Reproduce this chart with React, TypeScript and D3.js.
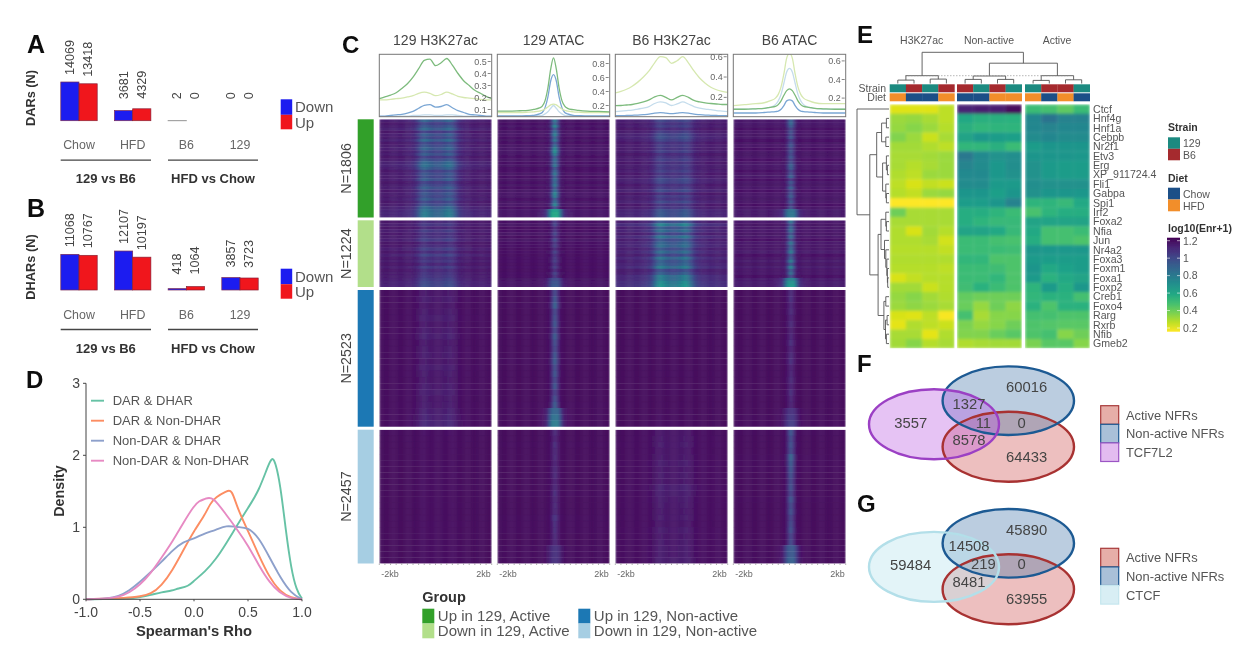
import React from "react";
import * as d3 from "d3";

const FONT = "'Liberation Sans', Arial, sans-serif";
const GREY = "#555";

// ---------- A / B bars
const barCategories = ["Chow", "HFD", "B6", "129"];
const darDown = [14069, 3681, 2, 0];
const darUp = [13418, 4329, 0, 0];
const dharDown = [11068, 12107, 418, 3857];
const dharUp = [10767, 10197, 1064, 3723];

// ---------- D density
const rhoGreen: [number, number][] = [[-1,0],[-.6,.01],[-.5,.03],[-.4,.06],[-.3,.1],[-.2,.12],[-.15,.15],[-.05,.18],[0,.26],[.1,.38],[.2,.55],[.3,.78],[.4,1.03],[.5,1.27],[.6,1.5],[.7,1.92],[.74,2.0],[.8,1.6],[.85,.95],[.9,.42],[.95,.12],[1,.01]];
const rhoOrange: [number, number][] = [[-1,0],[-.6,.02],[-.5,.04],[-.4,.07],[-.3,.19],[-.2,.4],[-.1,.68],[0,.95],[.1,1.17],[.15,1.33],[.2,1.42],[.3,1.5],[.35,1.53],[.4,1.27],[.5,.95],[.6,.61],[.7,.3],[.8,.1],[.9,.02],[1,0]];
const rhoPurple: [number, number][] = [[-1,0],[-.8,.01],[-.7,.04],[-.6,.12],[-.5,.24],[-.4,.38],[-.3,.52],[-.2,.68],[-.1,.8],[0,.84],[.1,.92],[.2,.96],[.3,1.03],[.4,1],[.5,1],[.6,.86],[.7,.58],[.8,.3],[.9,.08],[1,0]];
const rhoPink: [number, number][] = [[-1,0],[-.8,.01],[-.7,.03],[-.6,.09],[-.5,.2],[-.4,.36],[-.3,.58],[-.2,.8],[-.1,1.06],[0,1.3],[.05,1.37],[.1,1.39],[.17,1.44],[.3,1.17],[.4,.97],[.5,.75],[.6,.47],[.7,.23],[.8,.08],[.9,.01],[1,0]];
const rhoNames = ["DAR & DHAR", "DAR & Non-DHAR", "Non-DAR & DHAR", "Non-DAR & Non-DHAR"];
const rhoColors = ["#66c2a5", "#fc8d62", "#8da0cb", "#e78ac3"];

// ---------- C
const cTitles = ["129 H3K27ac", "129 ATAC", "B6 H3K27ac", "B6 ATAC"];
const cGroups = ["Up in 129, Active", "Down in 129, Active", "Up in 129, Non-active", "Down in 129, Non-active"];
const cGroupN = ["N=1806", "N=1224", "N=2523", "N=2457"];
const cGroupColors = ["#33a02c", "#b2df8a", "#1f78b4", "#a6cee3"];
const lineColors = ["#7dbb7d", "#d6e8b0", "#7aa6d4", "#c4dcec"];
const broadPos = d3.range(21).map((i) => -2 + i * 0.2);
const atacPos = [-2,-1.6,-1.2,-.9,-.7,-.5,-.4,-.3,-.2,-.1,0,.1,.2,.3,.4,.5,.7,.9,1.2,1.6,2];
const prof129H3 = [
  [.19,.205,.22,.24,.275,.315,.37,.44,.51,.52,.465,.49,.525,.47,.40,.34,.30,.26,.235,.21,.19],
  [.18,.18,.185,.19,.195,.205,.215,.235,.245,.235,.215,.225,.245,.23,.21,.2,.195,.19,.185,.18,.18],
  [.045,.045,.05,.055,.06,.07,.085,.11,.135,.14,.12,.125,.14,.115,.09,.075,.06,.055,.05,.045,.045],
  [.04,.04,.04,.042,.045,.045,.05,.05,.055,.055,.05,.05,.055,.055,.05,.045,.045,.042,.04,.04,.04],
];
const prof129Atac = [
  [.12,.12,.125,.13,.145,.165,.19,.27,.45,.72,.88,.72,.45,.27,.19,.16,.14,.13,.12,.115,.11],
  [.1,.1,.1,.105,.11,.12,.13,.15,.18,.21,.22,.21,.18,.15,.13,.12,.11,.105,.1,.1,.1],
  [.05,.05,.05,.055,.06,.08,.1,.17,.32,.55,.64,.55,.32,.17,.1,.08,.06,.055,.05,.05,.05],
  [.045,.045,.045,.05,.05,.055,.06,.08,.11,.16,.2,.16,.11,.08,.06,.055,.05,.05,.045,.045,.045],
];
const profB6H3 = [
  [.118,.12,.125,.13,.14,.155,.175,.205,.22,.2,.175,.2,.22,.2,.17,.155,.145,.14,.135,.13,.13],
  [.245,.26,.28,.31,.35,.40,.46,.54,.6,.59,.535,.56,.6,.54,.46,.39,.34,.3,.275,.26,.25],
  [.02,.02,.022,.024,.026,.03,.035,.045,.05,.045,.04,.045,.05,.045,.035,.03,.026,.024,.022,.02,.02],
  [.06,.065,.07,.075,.085,.095,.11,.14,.155,.145,.12,.135,.155,.135,.11,.095,.085,.08,.07,.065,.06],
];
const profB6Atac = [
  [.08,.08,.085,.09,.1,.11,.13,.17,.23,.28,.3,.28,.23,.17,.13,.11,.1,.09,.085,.08,.08],
  [.12,.13,.14,.15,.17,.2,.24,.32,.46,.63,.68,.63,.46,.32,.24,.2,.17,.15,.14,.14,.14],
  [.04,.04,.04,.045,.05,.055,.06,.08,.12,.17,.18,.17,.12,.08,.06,.055,.05,.045,.04,.04,.04],
  [.08,.08,.085,.09,.1,.13,.17,.24,.36,.48,.52,.48,.36,.24,.17,.13,.1,.09,.08,.08,.08],
];
const cProfiles = [prof129H3, prof129Atac, profB6H3, profB6Atac];
const cPositions = [broadPos, atacPos, broadPos, atacPos];
const cTicks = [[.1,.2,.3,.4,.5],[.2,.4,.6,.8],[.2,.4,.6],[.2,.4,.6]];
const cDomains = [[.04,.56],[.04,.95],[.01,.6],[.0,.7]];
const cTickLabels = [["0.1","0.2","0.3","0.4","0.5"],["0.2","0.4","0.6","0.8"],["0.2","0.4","0.6"],["0.2","0.4","0.6"]];

const broadHeat = [0,0,0,0,.01,.02,.03,.04,.05,.07,.1,.15,.25,.45,.72,.95,1,.9,.8,.72,.7,.72,.8,.9,1,.95,.72,.48,.28,.16,.1,.07,.05,.04,.03,.02,.01,0,0,0];
const narrowHeat = [0,0,0,0,0,0,0,0,0,0,0,0,0,0,0,0,0,.02,.08,.5,1,.5,.08,.02,0,0,0,0,0,0,0,0,0,0,0,0,0,0,0,0];
const wideHeat = [0,0,0,0,0,0,0,0,0,0,0,0,0,0,.01,.03,.08,.2,.6,1,1,1,.6,.2,.08,.03,.01,0,0,0,0,0,0,0,0,0,0,0,0,0];
// amplitude of the signal, one row per group, one column per panel
const heatAmp = [
  [.20,.33,.11,.2],
  [.09,.13,.24,.28],
  [.05,.24,.004,.09],
  [.01,.09,.04,.22],
];
// background streak level, per group, per panel
const heatBg = [
  [.05,.025,.05,.03],
  [.045,.02,.07,.035],
  [.008,.005,.003,.004],
  [.004,.005,.01,.005],
];
const heatStreaks = [
  [1.2,.8,1.0,1.3,.7,1.1,.9,1.3,.8,1.0,1.2,.9,1.1,.7,1.0,1.3,1.4,1.2,.8,1.0,.9,1.1,.7,.9,1.1,.8,1.0,.9,1.1,.8,1.0,1.3,1.5,1.6,1.6],
  [.8,1.1,.7,1.2,.9,1.0,1.3,.7,.9,1.3,.8,1.4,.9,1.1,.7,1.2,.8,1.0,1.1,1.3,1.5,1.6],
  [.8,1.0,.7,.9,1.1,.8,1.0,1.2,.8,.9,1.0,.8,1.1,.9,.8,1.0,1.1,.9,1.0,1.2,1.4,1.6],
  [1.4,1.2,1.1,1.0,.9,1.0,.8,1.1,.9,1.0,.8,.9,1.0,.8,.9,1.1,.9,1.0,.9,1.1,1.1,1.2],
];

// ---------- E
const eRows = ["Ctcf","Hnf4g","Hnf1a","Cebpb","Nr2f1","Etv3","Erg","XP_911724.4","Fli1","Gabpa","Spi1","Irf2","Foxa2","Nfia","Jun","Nr4a2","Foxa3","Foxm1","Foxa1","Foxp2","Creb1","Foxo4","Rarg","Rxrb","Nfib","Gmeb2"];
const eValues = [
  [.25,.25,.25,.3, 1.1,1.12,1.12,1.18, .52,.5,.45,.52],
  [.35,.36,.33,.3, .6,.57,.57,.56, .74,.82,.76,.76],
  [.36,.38,.35,.31, .57,.54,.55,.55, .74,.75,.74,.74],
  [.39,.35,.28,.33, .62,.67,.65,.64, .72,.74,.72,.72],
  [.34,.34,.32,.3, .54,.54,.57,.52, .65,.68,.68,.68],
  [.33,.33,.34,.35, .8,.73,.69,.71, .68,.68,.68,.67],
  [.33,.31,.33,.35, .75,.72,.67,.71, .69,.66,.65,.65],
  [.32,.30,.35,.35, .73,.73,.67,.70, .69,.66,.65,.65],
  [.30,.26,.29,.28, .72,.72,.66,.66, .71,.70,.70,.70],
  [.31,.29,.35,.36, .68,.68,.64,.68, .70,.68,.68,.67],
  [.2,.2,.2,.2, .65,.65,.68,.76, .55,.55,.53,.6],
  [.42,.33,.33,.33, .58,.58,.55,.52, .49,.55,.58,.58],
  [.33,.33,.33,.33, .58,.55,.53,.53, .62,.62,.62,.62],
  [.32,.26,.34,.31, .62,.62,.6,.53, .6,.5,.5,.52],
  [.32,.32,.33,.27, .52,.52,.5,.49, .58,.5,.5,.48],
  [.31,.31,.31,.29, .52,.52,.52,.51, .68,.67,.67,.67],
  [.32,.32,.32,.32, .54,.54,.48,.48, .66,.65,.65,.65],
  [.31,.31,.31,.3, .52,.52,.51,.48, .68,.6,.63,.65],
  [.26,.29,.31,.31, .52,.52,.54,.48, .66,.56,.6,.62],
  [.34,.34,.28,.31, .51,.56,.52,.48, .55,.66,.58,.67],
  [.36,.38,.34,.32, .44,.42,.42,.42, .54,.56,.56,.5],
  [.35,.37,.35,.33, .43,.36,.42,.37, .56,.48,.56,.56],
  [.26,.25,.3,.21, .5,.33,.38,.38, .5,.5,.48,.48],
  [.24,.32,.3,.28, .4,.36,.38,.42, .48,.47,.46,.46],
  [.33,.33,.24,.32, .39,.39,.43,.46, .48,.5,.38,.42],
  [.34,.38,.31,.33, .32,.33,.34,.34, .4,.46,.46,.38],
];
const eStrain = ["129","B6","129","B6","B6","129","B6","129","129","B6","B6","129"];
const eDiet = ["HFD","Chow","Chow","HFD","Chow","Chow","HFD","HFD","HFD","Chow","HFD","Chow"];
const strainColors: Record<string, string> = { "129": "#1b8a80", B6: "#a52a2e" };
const dietColors: Record<string, string> = { Chow: "#1b4f87", HFD: "#f28e2b" };
const eGroupNames = ["H3K27ac", "Non-active", "Active"];
const eLegendTicks = [.2,.4,.6,.8,1,1.2];

type Tree = number | { h: number; c: Tree[] };
const colTree: Tree = { h: 1, c: [
  { h: .25, c: [{ h: .11, c: [0,1] }, { h: .14, c: [2,3] }] },
  { h: .65, c: [
    { h: .24, c: [{ h: .13, c: [4,5] }, { h: .13, c: [6,7] }] },
    { h: .25, c: [{ h: .1, c: [8,9] }, { h: .12, c: [10,11] }] },
  ] },
] };
const rowTree: Tree = { h: 1, c: [0, { h: .6, c: [
  { h: .385, c: [
    { h: .23, c: [{ h: .08, c: [1,2] }, { h: .1, c: [3,4] }] },
    { h: .2, c: [{ h: .08, c: [5,{ h: .05, c: [6,7] }] }, { h: .1, c: [8,{ h: .08, c: [9,10] }] }] },
  ] },
  { h: .34, c: [
    { h: .25, c: [
      { h: .1, c: [11,{ h: .08, c: [12,13] }] },
      { h: .14, c: [14,{ h: .1, c: [15,{ h: .07, c: [16,{ h: .05, c: [17,{ h: .04, c: [18,19] }] }] }] }] },
    ] },
    { h: .16, c: [{ h: .1, c: [20,21] }, { h: .11, c: [{ h: .06, c: [22,23] }, { h: .08, c: [24,25] }] }] },
  ] },
] }] };

// ---------- F / G
const vennNames = [["Active NFRs","Non-active NFRs","TCF7L2"],["Active NFRs","Non-active NFRs","CTCF"]];
const vennCounts = [
  ["60016","3557","1327","11","0","8578","64433"],
  ["45890","59484","14508","219","0","8481","63955"],
];

function dendro(node: Tree, leaf: (i: number) => number, pt: (p: number, h: number) => [number, number]): { p: number; h: number; d: string } {
  if (typeof node === "number") return { p: leaf(node), h: 0, d: "" };
  const kids = node.c.map((k) => dendro(k, leaf, pt));
  const first = kids[0], last = kids[kids.length - 1];
  const L = (q: [number, number]) => `${q[0].toFixed(1)},${q[1].toFixed(1)}`;
  const d = kids.map((k) => k.d).join("") +
    `M${L(pt(first.p, first.h))}L${L(pt(first.p, node.h))}L${L(pt(last.p, node.h))}L${L(pt(last.p, last.h))}`;
  return { p: (first.p + last.p) / 2, h: node.h, d };
}

const T = (p: any) => <text fontFamily={FONT} {...p} />;

function BarPanel({ down, up, top, label, scale, minGap, legendTop, labelY }: any) {
  const base = top;
  const x = d3.scalePoint<string>().domain(barCategories).range([79, 240]);
  const y = d3.scaleLinear().domain([0, 14069]).range([base, base - scale]);
  const w = 18.2;
  const lab = (v: number, cx: number) => {
    const h = base - y(v);
    const gap = Math.max(h + (h > 20 ? 7 : 10), minGap);
    return <T transform={`translate(${cx + 4},${base - gap}) rotate(-90)`} fontSize={12.6} fill="#444">{v}</T>;
  };
  return (
    <g>
      <T transform={`translate(35,${labelY}) rotate(-90)`} textAnchor="middle" fontSize={12.8} fontWeight="bold" fill="#333">{label}</T>
      {barCategories.map((c, i) => {
        const cx = x(c)!;
        return (
          <g key={c}>
            <rect x={cx - w} y={y(down[i])} width={w} height={base - y(down[i])} fill={down[i] > 5 ? "#1a1ff0" : "#888"} stroke={down[i] > 5 ? "#7a2a55" : "#888"} strokeWidth={down[i] > 5 ? .7 : .9} />
            <rect x={cx} y={y(up[i])} width={w} height={base - y(up[i])} fill={up[i] > 5 ? "#f0141e" : "#888"} stroke={up[i] > 5 ? "#8a2233" : "#888"} strokeWidth={up[i] > 5 ? .7 : .9} />
            {lab(down[i], cx - w / 2)}
            {lab(up[i], cx + w / 2)}
            <T x={cx} y={base + 28.5} textAnchor="middle" fontSize={12.4} fill="#666">{c}</T>
          </g>
        );
      })}
      {[[60.7, 151, "129 vs B6"], [168, 258, "HFD vs Chow"]].map(([a, b, s]: any) => (
        <g key={s}>
          <line x1={a} x2={b} y1={base + 39.5} y2={base + 39.5} stroke="#444" strokeWidth={1.3} />
          <T x={(a + b) / 2} y={base + 62.5} textAnchor="middle" fontSize={13} fontWeight="bold" fill="#333">{s}</T>
        </g>
      ))}
      <rect x={280.7} y={legendTop} width={11.5} height={15.5} fill="#1a1ff0" />
      <rect x={280.7} y={legendTop + 15.5} width={11.5} height={14.5} fill="#f0141e" />
      <T x={295} y={legendTop + 13} fontSize={15} fill={GREY}>Down</T>
      <T x={295} y={legendTop + 28.5} fontSize={15} fill={GREY}>Up</T>
    </g>
  );
}

function DensityPanel() {
  const x = d3.scaleLinear().domain([-1, 1]).range([86, 302]);
  const y = d3.scaleLinear().domain([0, 3]).range([599.3, 383.3]);
  const line = d3.line<[number, number]>().x((d) => x(d[0])).y((d) => y(d[1])).curve(d3.curveBasis);
  const series = [rhoGreen, rhoOrange, rhoPurple, rhoPink];
  const xt = [-1, -.5, 0, .5, 1];
  return (
    <g>
      {series.map((s, i) => <path key={i} d={line(s)!} fill="none" stroke={rhoColors[i]} strokeWidth={1.9} />)}
      <line x1={x(-1)} x2={x(-1)} y1={y(3)} y2={y(0)} stroke="#444" strokeWidth={1} />
      <line x1={x(-1)} x2={x(1)} y1={y(0)} y2={y(0)} stroke="#444" strokeWidth={1} />
      {[0, 1, 2, 3].map((t) => (
        <g key={t}>
          <line x1={x(-1) - 3} x2={x(-1)} y1={y(t)} y2={y(t)} stroke="#444" />
          <T x={x(-1) - 6} y={y(t) + 5} textAnchor="end" fontSize={14} fill="#444">{t}</T>
        </g>
      ))}
      {xt.map((t) => (
        <g key={t}>
          <line x1={x(t)} x2={x(t)} y1={y(0)} y2={y(0) + 2} stroke="#444" />
          <T x={x(t)} y={617} textAnchor="middle" fontSize={14} fill="#444">{t.toFixed(1)}</T>
        </g>
      ))}
      <T x={194} y={635.5} textAnchor="middle" fontSize={14.8} fontWeight="bold" fill="#333">Spearman's Rho</T>
      <T transform="translate(64,491) rotate(-90)" textAnchor="middle" fontSize={14.3} fontWeight="bold" fill="#333">Density</T>
      {rhoNames.map((n, i) => (
        <g key={n}>
          <line x1={91} x2={104} y1={400.7 + i * 20} y2={400.7 + i * 20} stroke={rhoColors[i]} strokeWidth={1.9} />
          <T x={112.7} y={405 + i * 20} fontSize={13} fill={GREY}>{n}</T>
        </g>
      ))}
    </g>
  );
}

const panelX = [379.3, 497.3, 615.3, 733.3];
const panelW = 112.4;
const groupY = [[119.3, 217.5], [220.3, 287], [290, 426.7], [429.7, 563.5]];

function HeatCell({ pi, gi }: { pi: number; gi: number }) {
  const [y0, y1] = groupY[gi];
  const streaks = heatStreaks[gi];
  const n = streaks.length;
  const yb = d3.scaleBand<number>().domain(d3.range(n)).range([y0, y1]);
  const xb = d3.scaleBand<number>().domain(d3.range(40)).range([panelX[pi], panelX[pi] + panelW]);
  const isAtac = pi % 2 === 1;
  const rects: any[] = [];
  d3.range(n).forEach((r) => {
    const bottom = r >= n - 3;
    const s = bottom ? streaks[r] : streaks[(r + pi * 5) % (n - 3)];
    const prof = isAtac ? (bottom ? wideHeat : narrowHeat) : broadHeat;
    d3.range(40).forEach((c) => {
      const t = .022 + heatBg[gi][pi] * s + heatAmp[gi][pi] * prof[c] * s;
      rects.push(<rect key={`${r}-${c}`} x={xb(c)} y={yb(r)} width={xb.bandwidth() + .3} height={yb.bandwidth() + .3} fill={d3.interpolateViridis(t)} />);
    });
  });
  return <g clipPath={`url(#gclip${pi}${gi})`}><g filter="url(#hb)">{rects}</g></g>;
}

function PanelC() {
  return (
    <g>
      <defs>
        <filter id="hb" x="-2%" y="-2%" width="104%" height="104%"><feGaussianBlur stdDeviation="1.0 0.6" /></filter>
        {panelX.map((px, pi) => (
          <clipPath id={`pc${pi}`} key={pi}><rect x={px} y={54.3} width={panelW} height={62.4} /></clipPath>
        ))}
        {panelX.map((px, pi) => groupY.map(([a, b], gi) => (
          <clipPath id={`gclip${pi}${gi}`} key={gi}><rect x={px} y={a} width={panelW} height={b - a} /></clipPath>
        )))}
      </defs>
      {panelX.map((px, pi) => {
        const xs = d3.scaleLinear().domain([-2, 2]).range([px, px + panelW]);
        const d = cDomains[pi];
        const ys = d3.scaleLinear().domain(d).range([116.7, 116.7 - (d[1] - d[0]) * [120, 70, 101.7, 93][pi]]);
        const line = d3.line<number>().x((_, i) => xs(cPositions[pi][i])).y((v) => ys(v)).curve(d3.curveMonotoneX);
        return (
          <g key={pi}>
            <T x={px + panelW / 2} y={45} textAnchor="middle" fontSize={14} fill="#444">{cTitles[pi]}</T>
            <g clipPath={`url(#pc${pi})`}>
              {[3, 2, 1, 0].map((k) => <path key={k} d={line(cProfiles[pi][k])!} fill="none" stroke={lineColors[k]} strokeWidth={1.3} />)}
            </g>
            <rect x={px} y={54.3} width={panelW} height={62.4} fill="none" stroke="#777" strokeWidth={1} />
            {cTicks[pi].map((t, i) => (
              <g key={t}>
                <line x1={px + panelW - 4} x2={px + panelW - 1} y1={ys(t)} y2={ys(t)} stroke="#666" strokeWidth={.8} />
                <T x={px + panelW - 5} y={ys(t) + 3} textAnchor="end" fontSize={9} fill="#666">{cTickLabels[pi][i]}</T>
              </g>
            ))}
            {groupY.map((_, gi) => <HeatCell key={gi} pi={pi} gi={gi} />)}
            {d3.range(0, 41, 2).map((i) => (
              <line key={i} x1={px + i * panelW / 40} x2={px + i * panelW / 40} y1={563.5} y2={565} stroke="#777" strokeWidth={.6} />
            ))}
            <T x={px + 2} y={577} fontSize={9} fill="#666">-2kb</T>
            <T x={px + panelW - 1} y={577} textAnchor="end" fontSize={9} fill="#666">2kb</T>
          </g>
        );
      })}
      {groupY.map(([a, b], gi) => (
        <g key={gi}>
          <rect x={357.7} y={a} width={16} height={b - a} fill={cGroupColors[gi]} />
          <T transform={`translate(351,${(a + b) / 2}) rotate(-90)`} textAnchor="middle" fontSize={14.3} fill="#444">{cGroupN[gi]}</T>
        </g>
      ))}
      <T x={422.3} y={601.5} fontSize={14.5} fontWeight="bold" fill="#333">Group</T>
      {cGroups.map((g, i) => {
        const col = i < 2 ? 0 : 1;
        const row = i % 2;
        const sx = [422.3, 578.3][col];
        return (
          <g key={g}>
            <rect x={sx} y={608.7 + row * 14.8} width={12} height={14.8} fill={cGroupColors[i]} />
            <T x={sx + 15.5} y={621 + row * 15} fontSize={15} fill="#555">{g}</T>
          </g>
        );
      })}
    </g>
  );
}

function PanelE() {
  const colX = (i: number) => {
    const grp = Math.floor(i / 4);
    return [889.7, 957, 1025][grp] + (i % 4) * 16.2;
  };
  const cw = 16.2;
  const y = d3.scaleBand<number>().domain(d3.range(eRows.length)).range([104.3, 348.3]);
  const color = (v: number) => d3.interpolateViridis(1 - (v - .2));
  const colTreeY = d3.scaleLinear().domain([0, 1]).range([83.5, 52.3]);
  const rowTreeX = d3.scaleLinear().domain([0, 1]).range([889, 857]);
  const ct = dendro(colTree, (i) => colX(i) + cw / 2, (p, h) => [p, colTreeY(h)]);
  const rt = dendro(rowTree, (i) => y(i)! + y.bandwidth() / 2, (p, h) => [rowTreeX(h), p]);
  const leg = d3.scaleLinear().domain([.2, 1.2]).range([328, 240.7]);
  const stops = d3.range(0, 1.01, .1);
  return (
    <g>
      <defs>
        <linearGradient id="vir" x1="0" x2="0" y1="1" y2="0">
          {stops.map((s) => <stop key={s} offset={s} stopColor={d3.interpolateViridis(1 - s)} />)}
        </linearGradient>
        <filter id="eb" x="-5%" y="-5%" width="110%" height="110%"><feGaussianBlur stdDeviation="1.6" /></filter>
        {[0, 1, 2].map((g) => (
          <clipPath key={g} id={`ec${g}`}><rect x={colX(g * 4)} y={104.3} width={cw * 4} height={244} /></clipPath>
        ))}
      </defs>
      {eGroupNames.map((n, i) => (
        <T key={n} x={[921.7, 989, 1057][i]} y={44} textAnchor="middle" fontSize={10.5} fill="#555">{n}</T>
      ))}
      <path d={ct.d} fill="none" stroke="#555" strokeWidth={.9} />
      <line x1={905} x2={1068} y1={75.7} y2={75.7} stroke="#888" strokeWidth={.6} strokeDasharray="1.5 1.5" />
      <path d={rt.d} fill="none" stroke="#555" strokeWidth={.9} />
      {eStrain.map((s, i) => <rect key={i} x={colX(i)} y={84.3} width={cw + .2} height={8} fill={strainColors[s]} />)}
      {eDiet.map((s, i) => <rect key={i} x={colX(i)} y={93.3} width={cw + .2} height={8} fill={dietColors[s]} />)}
      <T x={886} y={92} textAnchor="end" fontSize={10.5} fill="#555">Strain</T>
      <T x={886} y={101} textAnchor="end" fontSize={10.5} fill="#555">Diet</T>
      {[0, 1, 2].map((g) => (
        <g key={g} clipPath={`url(#ec${g})`}>
          <g filter="url(#eb)">
            {eRows.map((_, r) => eValues[r].slice(g * 4, g * 4 + 4).map((v, c) => (
              <rect key={`${r}-${c}`} x={colX(g * 4 + c)} y={y(r)} width={cw + .3} height={y.bandwidth() + .3} fill={color(v)} />
            )))}
          </g>
        </g>
      ))}
      {eRows.map((n, r) => (
        <T key={n} x={1093} y={y(r)! + y.bandwidth() / 2 + 3.8} fontSize={10.6} fill="#555">{n}</T>
      ))}
      <T x={1168} y={130.5} fontSize={10.5} fontWeight="bold" fill="#333">Strain</T>
      <rect x={1168} y={137.3} width={12} height={11.5} fill={strainColors["129"]} />
      <rect x={1168} y={148.8} width={12} height={11.5} fill={strainColors.B6} />
      <T x={1183} y={147} fontSize={10.5} fill="#555">129</T>
      <T x={1183} y={159} fontSize={10.5} fill="#555">B6</T>
      <T x={1168} y={181.5} fontSize={10.5} fontWeight="bold" fill="#333">Diet</T>
      <rect x={1168} y={187.7} width={12} height={11.8} fill={dietColors.Chow} />
      <rect x={1168} y={199.5} width={12} height={11.8} fill={dietColors.HFD} />
      <T x={1183} y={197.5} fontSize={10.5} fill="#555">Chow</T>
      <T x={1183} y={209.7} fontSize={10.5} fill="#555">HFD</T>
      <T x={1168} y={232} fontSize={10.5} fontWeight="bold" fill="#333">log10(Enr+1)</T>
      <rect x={1167} y={237.7} width={13} height={94} fill="url(#vir)" />
      {eLegendTicks.map((t) => (
        <g key={t}>
          <line x1={1167} x2={1170} y1={leg(t)} y2={leg(t)} stroke="#fff" strokeWidth={.6} />
          <line x1={1177} x2={1180} y1={leg(t)} y2={leg(t)} stroke="#fff" strokeWidth={.6} />
          <T x={1183} y={leg(t) + 3.8} fontSize={10.5} fill="#555">{String(t)}</T>
        </g>
      ))}
    </g>
  );
}

function Venn({ top, idx }: { top: number; idx: number }) {
  const third = idx === 0
    ? { fill: "#bb55e0", op: .36, stroke: "#9b3fc4" }
    : { fill: "#bde4ee", op: .42, stroke: "#b3dfe9" };
  const cx = (z: number) => 850 + z / 3;
  const names = vennNames[idx];
  const cy = (z: number) => top + z / 3;
  const labelX = [530, 182, 357, 400, 515, 357, 530];
  const labelY = idx === 0 ? [105, 212, 156, 212, 212, 262, 315] : [105, 210, 153, 208, 208, 261, 313];
  const swatch = [
    { f: "#e6aea8", s: "#a83a3a" }, { f: "#a9c0d8", s: "#1f5a93" },
    idx === 0 ? { f: "#e3bcf0", s: "#9b55c4" } : { f: "#d8eef4", s: "#c5e6ee" },
  ];
  return (
    <g>
      <ellipse cx={1008.3} cy={top + 92} rx={65.7} ry={35} fill="#c8413a" fillOpacity={.33} />
      <ellipse cx={1008.3} cy={top + 46} rx={65.7} ry={34.3} fill="#3f75a8" fillOpacity={.36} />
      <ellipse cx={934} cy={top + 69.6} rx={65} ry={35} fill={third.fill} fillOpacity={third.op} />
      <ellipse cx={1008.3} cy={top + 92} rx={65.7} ry={35} fill="none" stroke="#a83232" strokeWidth={2.4} />
      <ellipse cx={1008.3} cy={top + 46} rx={65.7} ry={34.3} fill="none" stroke="#1f5a93" strokeWidth={2.4} />
      <ellipse cx={934} cy={top + 69.6} rx={65} ry={35} fill="none" stroke={third.stroke} strokeWidth={2.4} />
      {vennCounts[idx].map((c, i) => (
        <T key={i} x={cx(labelX[i])} y={cy(labelY[i]) - 2.5} dominantBaseline="central" textAnchor="middle" fontSize={14.8} fill="#444">{c}</T>
      ))}
      {names.map((n, i) => (
        <g key={n}>
          <rect x={1100.7} y={top + 51 + i * 18.6} width={18} height={18.6} fill={swatch[i].f} stroke={swatch[i].s} strokeWidth={1.2} />
          <T x={1126} y={top + 64.8 + i * 18.7} fontSize={12.9} fill="#555">{n}</T>
        </g>
      ))}
    </g>
  );
}

export default function App() {
  const letters: [string, number, number, number][] = [
    ["A", 27, 53, 25], ["B", 27, 217, 25], ["C", 342, 53, 24], ["D", 26, 388, 24],
    ["E", 857, 43, 24], ["F", 857, 372, 24], ["G", 857, 512, 24],
  ];
  return (
    <svg width={1250} height={654} viewBox="0 0 1250 654" style={{ position: "absolute", left: 0, top: 0, background: "#fff" }}>
      <defs><filter id="soft" x="0" y="0" width="100%" height="100%"><feGaussianBlur stdDeviation="0.4" /></filter></defs>
      <g filter="url(#soft)">
        <BarPanel down={darDown} up={darUp} top={120.7} label="DARs (N)" scale={38.7} minGap={21.5} legendTop={99.3} labelY={98} />
        <BarPanel down={dharDown} up={dharUp} top={290} label="DHARs (N)" scale={45.3} minGap={15.5} legendTop={268.7} labelY={267} />
        <DensityPanel />
        <PanelC />
        <PanelE />
        <Venn top={354.7} idx={0} />
        <Venn top={497.3} idx={1} />
        {letters.map(([s, x, y, f]) => (
          <T key={s} x={x} y={y} fontSize={f} fontWeight="bold" fill="#111">{s}</T>
        ))}
      </g>
    </svg>
  );
}
